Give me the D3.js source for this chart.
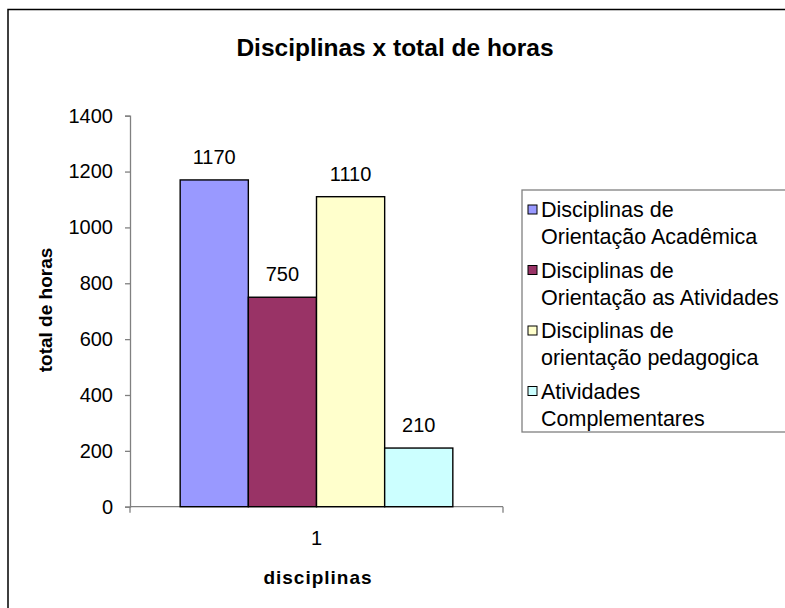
<!DOCTYPE html>
<html>
<head>
<meta charset="utf-8">
<script src="https://cdn.jsdelivr.net/npm/d3@7"></script>
<style>
  body { margin: 0; background: #fff; }
  svg { display: block; font-family: "Liberation Sans", Arial, sans-serif; }
</style>
</head>
<body>
<div id="chart"></div>
<script>
var categories = ["1"];
var seriesNames = [
  ["Disciplinas de", "Orientação Acadêmica"],
  ["Disciplinas de", "Orientação as Atividades"],
  ["Disciplinas de", "orientação pedagogica"],
  ["Atividades", "Complementares"]
];
var seriesValues = [1170, 750, 1110, 210];
var colors = ["#9999FF", "#993366", "#FFFFCC", "#CCFFFF"];
var yTicks = [0, 200, 400, 600, 800, 1000, 1200, 1400];

var W = 785, H = 608;
var plotL = 130, plotR = 503, plotT = 115.7, plotB = 506.7;

var svg = d3.select("#chart").append("svg")
    .attr("width", W).attr("height", H);

// outer chart frame (cut off at right and bottom)
svg.append("rect")
    .attr("x", 8).attr("y", 9.5)
    .attr("width", 820).attr("height", 640)
    .attr("fill", "#fff").attr("stroke", "#000").attr("stroke-width", 1.5);

svg.append("text")
    .attr("x", 395).attr("y", 56)
    .attr("text-anchor", "middle")
    .style("font-size", "24.5px").style("font-weight", "bold")
    .text("Disciplinas x total de horas");

var y = d3.scaleLinear().domain([0, 1400]).range([plotB, plotT]);
var x0 = d3.scaleBand().domain(categories).range([plotL, plotR])
    .paddingInner(0).paddingOuter(0.184);
var x1 = d3.scaleBand().domain(d3.range(seriesValues.length))
    .range([0, x0.bandwidth()]).padding(0);

// y axis
var yAxis = svg.append("g")
    .attr("transform", "translate(" + plotL + ",0)")
    .call(d3.axisLeft(y).tickValues(yTicks).tickFormat(d3.format("d"))
      .tickSize(5).tickPadding(12));
yAxis.selectAll("path, line").attr("stroke", "#808080").attr("stroke-width", 1.3);
yAxis.selectAll("text").style("font-size", "20px").attr("fill", "#000")
    .style("font-family", "'Liberation Sans', Arial, sans-serif");

// x axis
var xAxisG = svg.append("g").attr("transform", "translate(0," + plotB + ")");
xAxisG.append("line").attr("x1", plotL).attr("x2", plotR)
    .attr("stroke", "#808080").attr("stroke-width", 1.3);
[plotL, plotR].forEach(function(px) {
  xAxisG.append("line").attr("x1", px).attr("x2", px).attr("y1", 0).attr("y2", 6)
      .attr("stroke", "#808080").attr("stroke-width", 1.3);
});
categories.forEach(function(c) {
  xAxisG.append("text")
      .attr("x", x0(c) + x0.bandwidth() / 2).attr("y", 38)
      .attr("text-anchor", "middle").style("font-size", "20px").text(c);
});

// bars
var g = svg.append("g").attr("transform", "translate(" + x0(categories[0]) + ",0)");
g.selectAll("rect").data(seriesValues).enter().append("rect")
    .attr("x", function(d, i) { return x1(i); })
    .attr("y", function(d) { return y(d); })
    .attr("width", x1.bandwidth())
    .attr("height", function(d) { return y(0) - y(d); })
    .attr("fill", function(d, i) { return colors[i]; })
    .attr("stroke", "#000").attr("stroke-width", 1.4);

g.selectAll("text.val").data(seriesValues).enter().append("text")
    .attr("class", "val")
    .attr("x", function(d, i) { return x1(i) + x1.bandwidth() / 2; })
    .attr("y", function(d) { return y(d) - 16; })
    .attr("text-anchor", "middle").style("font-size", "20px")
    .text(function(d) { return d; });

// axis titles
svg.append("text")
    .attr("transform", "translate(52,310) rotate(-90)")
    .attr("text-anchor", "middle")
    .style("font-size", "19px").style("font-weight", "bold")
    .text("total de horas");
svg.append("text")
    .attr("x", 318).attr("y", 584)
    .attr("text-anchor", "middle")
    .style("font-size", "19px").style("font-weight", "bold")
    .style("letter-spacing", "1px")
    .text("disciplinas");

// legend
var lg = svg.append("g");
lg.append("rect")
    .attr("x", 522).attr("y", 190)
    .attr("width", 300).attr("height", 242)
    .attr("fill", "#fff").attr("stroke", "#808080").attr("stroke-width", 1.3);
seriesNames.forEach(function(lines, i) {
  var ty = 217 + i * 60.5;
  lg.append("rect")
      .attr("x", 528).attr("y", ty - 12)
      .attr("width", 9).attr("height", 9)
      .attr("fill", colors[i]).attr("stroke", "#000").attr("stroke-width", 1);
  lines.forEach(function(t, j) {
    lg.append("text")
        .attr("x", 541).attr("y", ty + j * 27)
        .style("font-size", "21.5px").text(t);
  });
});
</script>
</body>
</html>
